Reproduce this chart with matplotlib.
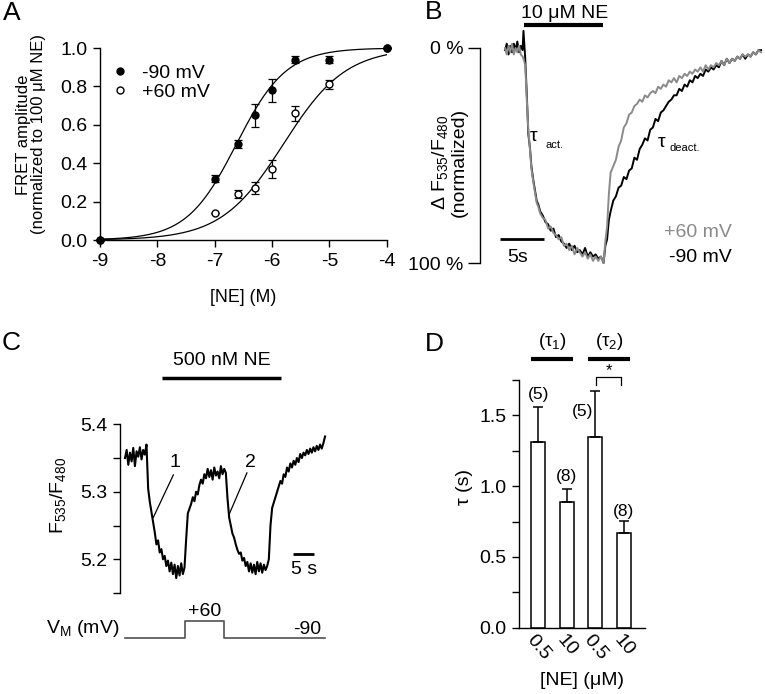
import numpy as np
import matplotlib
matplotlib.use("Agg")
import matplotlib.pyplot as plt
from matplotlib.ticker import FixedLocator, FormatStrFormatter

plt.rcParams['font.family'] = ['Liberation Sans', 'DejaVu Sans']
plt.rcParams['mathtext.fontset'] = 'custom'
plt.rcParams['mathtext.rm'] = 'Liberation Sans'
plt.rcParams['mathtext.it'] = 'Liberation Sans:italic'
plt.rcParams['font.size'] = 14
plt.rcParams['axes.linewidth'] = 1.0

# ---- panel A: concentration-response ----
ne_log = [-9, -7, -6.6, -6.3, -6, -5.6, -5, -4]
amp_m90 = [0.0, 0.32, 0.50, 0.65, 0.78, 0.94, 0.94, 1.0]
err_m90 = [0.0, 0.02, 0.02, 0.06, 0.06, 0.02, 0.02, 0.0]
amp_p60 = [0.0, 0.14, 0.24, 0.27, 0.37, 0.66, 0.81, 1.0]
err_p60 = [0.0, 0.0, 0.02, 0.03, 0.045, 0.04, 0.025, 0.0]
# Hill fit parameters (logEC50, slope)
fit_m90 = (-6.62, 1.0)
fit_p60 = (-5.8, 0.8)

# ---- panel B: normalized FRET traces (% of max) ----
b_time = [0.0, 0.2, 0.4, 0.6, 0.8, 1.0, 1.2, 1.4, 1.6, 1.8, 2.0, 2.1, 2.3, 2.5, 2.65, 2.85, 3.0, 3.2, 3.4, 3.6, 3.8, 4.0,
          4.3, 4.6, 4.9, 5.2, 5.5, 5.8, 6.1, 6.4, 6.7, 7.0, 7.3, 7.6, 7.9, 8.2, 8.5, 8.8, 9.1, 9.4, 9.7, 10.0, 10.3, 10.6, 10.9, 11.2,
          11.4, 11.6, 11.8, 12.0,
          12.3, 12.6, 12.9, 13.2, 13.5, 13.8, 14.1, 14.4, 14.7, 15.0, 15.3, 15.6, 15.9, 16.2, 16.5, 16.8, 17.1, 17.4, 17.7, 18.0,
          18.3, 18.6, 18.9, 19.2, 19.5, 19.8, 20.1, 20.4, 20.7, 21.0, 21.3, 21.6, 21.9, 22.2, 22.5, 22.8, 23.1, 23.4, 23.7, 24.0,
          24.3, 24.6, 24.9, 25.2, 25.5, 25.8, 26.1, 26.4, 26.7, 27.0, 27.3, 27.6, 27.9, 28.2, 28.5, 28.8, 29.1]
b_m90 = [1, -2, 3, -1, 2, -2, 1, -3, 2, -1, 1, -8, 5, 24, 40, 47, 55, 61, 66, 71, 73, 76,
         78, 81, 82, 85, 84, 88, 87, 90, 91, 93, 91, 94, 92, 95, 94, 96, 93, 97, 95, 97, 96, 98, 97, 100,
         92, 89, 80, 76,
         71, 69, 65, 64, 60, 61, 57, 56, 51, 52, 47, 45, 42, 43, 38, 37, 33, 34, 30, 29,
         27, 25, 24, 22, 22, 19, 20, 17, 18, 15, 16, 13, 14, 12, 13, 10, 11, 9, 10, 8,
         9, 6, 8, 5, 7, 5, 6, 4, 5, 3, 5, 3, 4, 2, 3, 1, 1]
b_p60 = [0, 3, -1, 2, -2, 3, 0, 2, -1, 3, 4, 5, 8, 26, 38, 48, 56, 62, 67, 72, 74, 77,
         79, 80, 84, 83, 86, 87, 89, 88, 92, 91, 94, 92, 96, 93, 95, 97, 95, 98, 96, 99, 97, 99, 97, 100,
         90, 83, 68, 58,
         55, 52, 46, 43, 37, 35, 31, 30, 27, 26, 24, 25, 22, 23, 21, 20, 21, 18, 19, 17,
         18, 15, 16, 14, 16, 13, 14, 12, 13, 11, 12, 10, 11, 9, 11, 8, 10, 8, 9, 7,
         8, 6, 8, 5, 7, 5, 6, 4, 5, 3, 4, 3, 4, 2, 3, 1, 2]

# ---- panel C: raw FRET ratio, 0.4 s sampling ----
c_dt = 0.4
c_ratio = [5.350, 5.362, 5.340, 5.358, 5.345, 5.365, 5.338, 5.360, 5.352, 5.366, 5.348, 5.362, 5.355, 5.370,
           5.305, 5.285, 5.270, 5.255, 5.240, 5.222, 5.228, 5.210, 5.215, 5.200, 5.205, 5.190, 5.198, 5.182,
           5.195, 5.178, 5.192, 5.172, 5.190, 5.176, 5.194, 5.178, 5.188,
           5.230, 5.268, 5.275, 5.282, 5.292, 5.286, 5.300, 5.296, 5.310, 5.318, 5.312, 5.326, 5.320, 5.334,
           5.322, 5.332, 5.318, 5.336, 5.324, 5.330, 5.320, 5.338, 5.326, 5.334, 5.328,
           5.290, 5.262, 5.250, 5.238, 5.232, 5.222, 5.214, 5.208, 5.210, 5.198, 5.202, 5.190, 5.196, 5.182,
           5.194, 5.180, 5.192, 5.178, 5.196, 5.182, 5.194, 5.180, 5.192, 5.184, 5.190, 5.200,
           5.250, 5.276, 5.284, 5.292, 5.300, 5.308, 5.316, 5.312, 5.326, 5.322, 5.336, 5.330, 5.342, 5.336,
           5.346, 5.340, 5.350, 5.344, 5.356, 5.350, 5.358, 5.354, 5.362, 5.356, 5.364, 5.358, 5.366, 5.360,
           5.368, 5.362, 5.370, 5.364, 5.372, 5.382]
vm_time = [0, 14.4, 14.4, 24.0, 24.0, 48.4]
vm_mv = [-90, -90, 60, 60, -90, -90]

# ---- panel D: time constants ----
d_labels = ["0.5", "10", "0.5", "10"]
d_tau = [1.31, 0.89, 1.35, 0.67]
d_err = [0.25, 0.09, 0.32, 0.083]
d_n = ["(5)", "(8)", "(5)", "(8)"]

W, H = 765, 694
fig = plt.figure(figsize=(W / 100, H / 100), dpi=100)


def px_axes(l, t, r, b):
    return fig.add_axes([l / W, 1 - b / H, (r - l) / W, (b - t) / H])


def hill(x, ec, n):
    return 1.0 / (1.0 + 10 ** (n * (ec - x)))


# ================= A =================
axA = px_axes(100, 48, 386.7, 240)
xs = np.linspace(-9, -4, 300)
axA.plot(xs, hill(xs, *fit_m90), color='black', lw=0.9)
axA.plot(xs, hill(xs, *fit_p60), color='black', lw=0.9)
eb_p = axA.errorbar(ne_log, amp_p60, yerr=err_p60, fmt='o', color='black', mfc='white', ms=5, capsize=3,
                    elinewidth=0.9, capthick=0.9, clip_on=False, zorder=3)
eb_m = axA.errorbar(ne_log, amp_m90, yerr=err_m90, fmt='o', color='black', ms=5, capsize=3,
                    elinewidth=0.9, capthick=0.9, clip_on=False, zorder=4)
axA.set_xlim(-9, -4)
axA.set_ylim(0, 1)
axA.set_xticks([-9, -8, -7, -6, -5, -4])
axA.set_xticklabels(['-9', '-8', '-7', '-6', '-5', '-4'])
axA.set_yticks([0, 0.2, 0.4, 0.6, 0.8, 1.0])
axA.yaxis.set_major_formatter(FormatStrFormatter('%.1f'))
for s in ['top', 'right']:
    axA.spines[s].set_visible(False)
axA.tick_params(direction='out', length=5, width=1, labelsize=14, pad=4)
axA.set_xlabel('[NE] (M)', fontsize=12.8, labelpad=14)
axA.set_ylabel('FRET amplitude\n(normalized to 100 \u03bcM NE)', fontsize=12, linespacing=1.0)
axA.yaxis.set_label_coords(-0.19, 0.55)
axA.legend([eb_m[0], eb_p[0]], ['-90 mV', '+60 mV'], loc='upper left', bbox_to_anchor=(-0.01, 0.975),
           frameon=False, fontsize=14, handletextpad=0.5, labelspacing=0.05, handlelength=1.2,
           borderaxespad=0.2)

# ================= B =================
axB = px_axes(480, 48, 762, 263)
axB.plot(b_time, b_m90, color='black', lw=1.4, clip_on=False)
axB.plot(b_time, b_p60, color='#8a8a8a', lw=1.4, clip_on=False)
axB.set_xlim(-2.84, 29.2)
axB.set_ylim(100, 0)
axB.set_yticks([0, 100])
axB.set_yticklabels(['0 %', '100 %'])
axB.set_xticks([])
for s in ['top', 'right', 'bottom']:
    axB.spines[s].set_visible(False)
axB.tick_params(direction='out', length=9, width=1, labelsize=14, pad=3)
axB.set_ylabel('\u0394 F$_\\mathregular{535}$/F$_\\mathregular{480}$\n(normalized)', fontsize=14,
               linespacing=1.0)
axB.yaxis.set_label_coords(-0.045, 0.47)
axB.plot([2.16, 11.1], [-10.7, -10.7], color='black', lw=3, clip_on=False, solid_capstyle='butt')
axB.text(6.8, -16, '10 \u03bcM NE', ha='center', va='center', fontsize=14)
axB.plot([-0.57, 4.43], [89, 89], color='black', lw=2, clip_on=False, solid_capstyle='butt')
axB.text(1.4, 97.5, '5s', ha='center', va='center', fontsize=14)
axB.text(25.8, 86, '+60 mV', ha='right', va='center', fontsize=14, color='#8a8a8a')
axB.text(25.8, 97.5, '-90 mV', ha='right', va='center', fontsize=14, color='black')
axB.text(3.2, 41, '\u03c4', ha='center', va='center', fontsize=14)
axB.text(4.6, 45, 'act.', ha='left', va='center', fontsize=8)
axB.text(17.8, 44, '\u03c4', ha='center', va='center', fontsize=14)
axB.text(18.7, 46.5, 'deact.', ha='left', va='center', fontsize=8)

# ================= C =================
axC = px_axes(120, 424.3, 330, 593)
c_time = np.arange(len(c_ratio)) * c_dt
axC.plot(c_time, c_ratio, color='black', lw=1.5)
axC.set_xlim(-1.21, 49.6)
axC.set_ylim(5.15, 5.4)
axC.yaxis.set_major_locator(FixedLocator([5.2, 5.3, 5.4]))
axC.yaxis.set_minor_locator(FixedLocator([5.15, 5.25, 5.35]))
axC.yaxis.set_major_formatter(FormatStrFormatter('%.1f'))
axC.set_xticks([])
for s in ['top', 'right', 'bottom']:
    axC.spines[s].set_visible(False)
axC.tick_params(which='both', direction='out', length=5, width=1, labelsize=14, pad=4)
axC.set_ylabel('F$_\\mathregular{535}$/F$_\\mathregular{480}$', fontsize=14)
axC.yaxis.set_label_coords(-0.25, 0.58)
axC.plot([8.9, 37.7], [5.469, 5.469], color='black', lw=2.5, clip_on=False, solid_capstyle='butt')
axC.text(23.5, 5.494, '500 nM NE', ha='center', va='center', fontsize=14)
axC.plot([40.75, 45.75], [5.208, 5.208], color='black', lw=2, solid_capstyle='butt')
axC.text(43.3, 5.185, '5 s', ha='center', va='center', fontsize=14)
axC.text(12.1, 5.343, '1', ha='center', va='center', fontsize=14)
axC.plot([11.7, 6.85], [5.325, 5.262], color='black', lw=0.9)
axC.text(30.3, 5.343, '2', ha='center', va='center', fontsize=14)
axC.plot([29.5, 25.3], [5.328, 5.268], color='black', lw=0.9)

axV = px_axes(120, 621, 330, 638)
axV.plot(vm_time, vm_mv, color='#505050', lw=1.2, clip_on=False)
axV.set_xlim(-1.21, 49.6)
axV.set_ylim(-90, 60)
axV.axis('off')
axV.annotate('+60', xy=(19.2, 60), xytext=(0, 1), textcoords='offset points', ha='center', va='bottom',
             fontsize=14)
axV.annotate('-90', xy=(47.6, -90), xytext=(0, 0), textcoords='offset points', ha='right', va='bottom',
             fontsize=14)
axV.annotate('V$_\\mathregular{M}$ (mV)', xy=(0, -90), xytext=(-4, 7), textcoords='offset points',
             ha='right', va='center', fontsize=14)

# ================= D =================
axD = px_axes(519, 380, 645, 627.7)
pos = np.arange(len(d_tau))
axD.bar(pos, d_tau, width=0.5, color='white', edgecolor='black', lw=1.1)
axD.errorbar(pos, d_tau, yerr=[np.zeros(len(d_err)), d_err], fmt='none', ecolor='black',
             elinewidth=1.1, capsize=3.5, capthick=1.1)
axD.set_xlim(-0.68, 3.75)
axD.set_ylim(0, 1.75)
axD.yaxis.set_major_locator(FixedLocator([0, 0.5, 1.0, 1.5]))
axD.yaxis.set_minor_locator(FixedLocator([0.25, 0.75, 1.25, 1.75]))
axD.yaxis.set_major_formatter(FormatStrFormatter('%.1f'))
axD.set_xticks(pos)
axD.set_xticklabels(d_labels, rotation=-50, ha='center', va='top', fontsize=14)
axD.tick_params(axis='x', length=0, pad=3)
axD.tick_params(axis='y', which='both', direction='out', length=5, width=1, labelsize=14, pad=4)
for s in ['top', 'right']:
    axD.spines[s].set_visible(False)
axD.set_ylabel('\u03c4 (s)', fontsize=14)
axD.yaxis.set_label_coords(-0.365, 0.57)
n_pos = [(0, 1.646), (1, 1.068), (1.56, 1.528), (3, 0.82)]
for (x, y), t in zip(n_pos, d_n):
    axD.text(x, y, t, ha='center', va='center', fontsize=12.5)
axD.plot([2.02, 2.02, 2.92, 2.92], [1.717, 1.771, 1.771, 1.717], color='black', lw=0.9, clip_on=False)
axD.text(2.47, 1.815, '*', ha='center', va='center', fontsize=12)
axD.plot([-0.26, 1.23], [1.898, 1.898], color='black', lw=3, clip_on=False, solid_capstyle='butt')
axD.plot([1.76, 3.24], [1.898, 1.898], color='black', lw=3, clip_on=False, solid_capstyle='butt')
axD.text(0.49, 2.02, '(\u03c4$_\\mathregular{1}$)', ha='center', va='center', fontsize=13.5)
axD.text(2.5, 2.02, '(\u03c4$_\\mathregular{2}$)', ha='center', va='center', fontsize=13.5)
axD.text(1.52, -0.37, '[NE] (\u03bcM)', ha='center', va='center', fontsize=14)

# panel letters
for lbl, x, y in [('A', 3, 1), ('B', 425, 0), ('C', 2, 331), ('D', 425, 332)]:
    fig.text(x / W, 1 - y / H, lbl, ha='left', va='top', fontsize=19)

fig.savefig('out.png', dpi=100)
